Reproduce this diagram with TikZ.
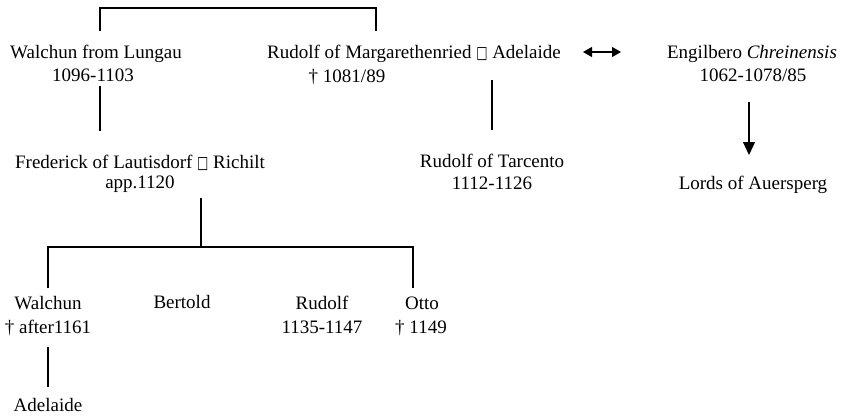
\documentclass[tikz,border=0pt]{standalone}
\usepackage{fontspec}
\usepackage{graphicx}
\setmainfont{Liberation Serif}
\newfontfamily\boxglyph{DejaVu Sans}
\usetikzlibrary{arrows.meta}
\newcommand{\spousebox}{{\boxglyph\fontsize{17}{17}\selectfont\scalebox{0.7}[1]{□}}}

\begin{document}
\begin{tikzpicture}[x=1pt,y=-1pt]
\useasboundingbox (0,0) rectangle (842,415);
\begin{scope}[every node/.style={anchor=base,inner sep=0pt,font=\fontsize{19}{23}\selectfont}]
    \node (lungau) at (96,58) {Walchun from Lungau};
    \node (lungaud) at (93,81) {1096-1103};
    \node (marg) at (414,58) {Rudolf of Margarethenried \spousebox{} Adelaide};
    \node (margd) at (347,82) {† 1081/89};
    \node (engil) at (752,58) {Engilbero \textit{Chreinensis}};
    \node (engild) at (753,81) {1062-1078/85};
    \node (fred) at (140,168) {Frederick of Lautisdorf \spousebox{} Richilt};
    \node (fredd) at (140,188) {app.1120};
    \node (tarc) at (492,167) {Rudolf of Tarcento};
    \node (tarcd) at (492,189) {1112-1126};
    \node (lords) at (753,189) {Lords of Auersperg};
    \node (walch) at (48,309) {Walchun};
    \node (walchd) at (48,333) {† after1161};
    \node (bert) at (182,308) {Bertold};
    \node (rud) at (322,309) {Rudolf};
    \node (rudd) at (322,333) {1135-1147};
    \node (otto) at (422,309) {Otto};
    \node (ottod) at (421,333) {† 1149};
    \node (adel) at (48,411) {Adelaide};
\end{scope}

\coordinate (lungtop) at (100,31);
\coordinate (margtop) at (376,31);
\coordinate (lungbot) at (100,86);
\coordinate (fredtop) at (100,131);
\coordinate (margbot) at (492,80);
\coordinate (tarctop) at (492,130);
\coordinate (fredbot) at (201,198);
\coordinate (walchtop) at (48,288);
\coordinate (ottotop) at (413,288);
\coordinate (walchbot) at (48,347);
\coordinate (adeltop) at (48,387);
\coordinate (marrl) at (583,52);
\coordinate (marrr) at (621,52);
\coordinate (engilbot) at (749,102);
\coordinate (lordstop) at (749,155);

\begin{scope}[>={Triangle[length=9pt,width=10pt]},
              every edge/.style={draw,line width=1.1pt}]
    \draw [line width=1.1pt] (lungtop) -- ++(0,-23) -| (margtop);
    \draw [line width=1.1pt] (walchtop) -- ++(0,-41) -| (ottotop);
    \path [-] (lungbot) edge (fredtop);
    \path [-] (margbot) edge (tarctop);
    \path [-] (fredbot) edge ++(0,49);
    \path [-] (walchbot) edge (adeltop);
    \path [<->] (marrl) edge (marrr);
    \path [->,>={Triangle[length=13pt,width=12pt]}] (engilbot) edge (lordstop);
\end{scope}
\end{tikzpicture}
\end{document}
